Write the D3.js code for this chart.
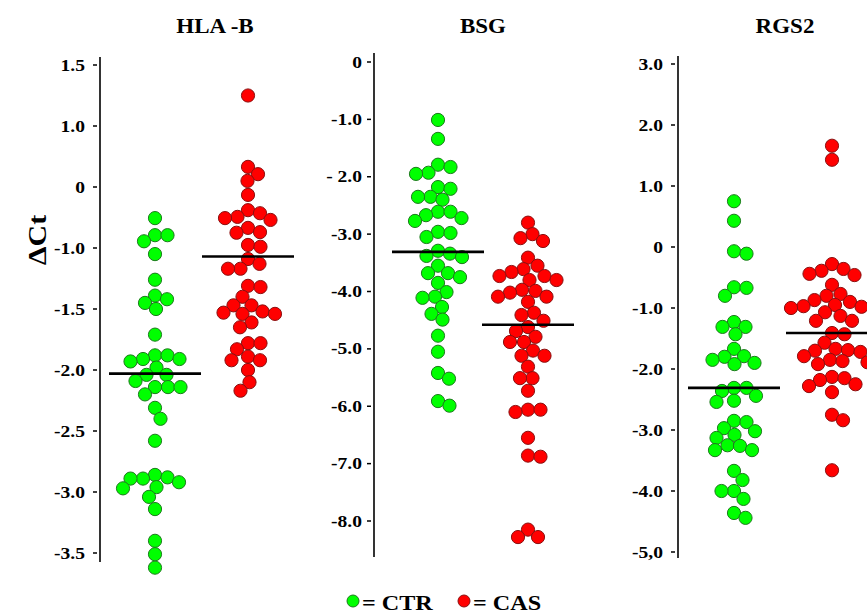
<!DOCTYPE html>
<html>
<head>
<meta charset="utf-8">
<script src="https://cdn.jsdelivr.net/npm/d3@7/dist/d3.min.js"></script>
<style>
  html, body { margin: 0; padding: 0; background: #fff; }
</style>
</head>
<body>
<div id="chart"></div>
<script>
// HLA-B 数据
const hlaTicks = ['1.5', '1.0', '0', '-1.0', '-1.5', '-2.0', '-2.5', '-3.0', '-3.5']
const hlaTickValues = [1.5, 1.0, 0, -1.0, -1.5, -2.0, -2.5, -3.0, -3.5]
const hlaCtr = [-0.51, -0.79, -0.89, -0.79, -1.05, -1.26, -1.39, -1.42, -1.45, -1.50,
  -1.71, -1.88, -1.93, -1.91, -1.88, -1.91, -1.98, -2.04, -2.04, -2.09, -2.14, -2.14,
  -2.14, -2.20, -2.31, -2.40, -2.58, -2.86, -2.92, -2.88, -2.89, -2.89, -2.97, -2.96,
  -3.04, -3.14, -3.40, -3.51, -3.62]
const hlaCas = [1.25, 0.33, 0.21, 0.10, -0.13, -0.38, -0.43, -0.49, -0.54, -0.51,
  -0.67, -0.75, -0.74, -0.98, -0.95, -1.09, -1.13, -1.17, -1.17, -1.32, -1.31, -1.40,
  -1.47, -1.47, -1.54, -1.52, -1.54, -1.53, -1.65, -1.61, -1.78, -1.78, -1.83, -1.89,
  -1.92, -1.92, -2.00, -2.10, -2.17]
const hlaMeans = [-2.03, -1.07]

// BSG 数据
const bsgTicks = ['0', '-1.0', '- 2.0', '-3.0', '-4.0', '-5.0', '-6.0', '-7.0', '-8.0']
const bsgTickValues = [0, -1, -2, -3, -4, -5, -6, -7, -8]
const bsgCtr = [-1.01, -1.34, -1.83, -1.79, -1.93, -1.95, -2.21, -2.18, -2.35, -2.35,
  -2.40, -2.61, -2.61, -2.72, -2.67, -2.77, -2.96, -2.98, -3.05, -3.29, -3.38, -3.40,
  -3.34, -3.55, -3.68, -3.68, -3.75, -3.85, -4.01, -4.11, -4.09, -4.27, -4.39, -4.49,
  -4.77, -5.05, -5.42, -5.52, -5.91, -5.99]
const bsgCas = [-2.80, -3.00, -3.12, -3.07, -3.41, -3.55, -3.66, -3.73, -3.80, -3.80,
  -3.73, -3.61, -4.02, -3.99, -3.97, -4.09, -4.09, -4.18, -4.41, -4.37, -4.51, -4.62,
  -4.69, -4.79, -4.88, -4.88, -5.03, -5.12, -5.12, -5.31, -5.51, -5.51, -5.73, -6.06,
  -6.10, -6.06, -6.55, -6.88, -6.86, -8.15, -8.28, -8.28]
const bsgMeans = [-3.31, -4.58]

// RGS2 数据
const rgsTicks = ['3.0', '2.0', '1.0', '0', '-1.0', '-2.0', '-3.0', '-4.0', '-5,0']
const rgsTickValues = [3, 2, 1, 0, -1, -2, -3, -4, -5]
const rgsCtr = [0.75, 0.43, -0.11, -0.07, -0.67, -0.66, -0.80, -1.23, -1.31, -1.31,
  -1.43, -1.67, -1.80, -1.79, -1.90, -1.92, -1.85, -2.31, -2.31, -2.36, -2.44, -2.54,
  -2.52, -2.87, -2.85, -2.97, -3.02, -3.08, -3.13, -3.25, -3.26, -3.33, -3.33, -3.67,
  -3.82, -4.00, -4.00, -4.13, -4.36, -4.44]
const rgsCas = [1.66, 1.43, -0.28, -0.36, -0.44, -0.39, -0.46, -0.62, -0.77, -0.80,
  -0.90, -0.87, -0.97, -0.98, -0.95, -1.00, -1.13, -1.07, -1.21, -1.21, -1.41, -1.43,
  -1.57, -1.69, -1.70, -1.72, -1.67, -1.79, -1.85, -1.92, -1.87, -1.89, -2.15, -2.13,
  -2.18, -2.28, -2.25, -2.38, -2.75, -2.84, -3.66]
const rgsMeans = [-2.31, -1.41]

const groupNames = ['CTR', 'CAS']

// 各面板布局
const panels = [
  { title: 'HLA  -B', ticks: hlaTicks, tickValues: hlaTickValues, series: [hlaCtr, hlaCas], means: hlaMeans,
    axisX: 100, top: 65, bottom: 553, lineTop: 57, lineBottom: 562, centers: [155, 248], titleX: 215, labelGap: 15 },
  { title: 'BSG', ticks: bsgTicks, tickValues: bsgTickValues, series: [bsgCtr, bsgCas], means: bsgMeans,
    axisX: 374, top: 62, bottom: 521, lineTop: 53, lineBottom: 557, centers: [438, 528], titleX: 483, labelGap: 12 },
  { title: 'RGS2', ticks: rgsTicks, tickValues: rgsTickValues, series: [rgsCtr, rgsCas], means: rgsMeans,
    axisX: 678, top: 64, bottom: 552, lineTop: 56, lineBottom: 558, centers: [734, 832], titleX: 785, labelGap: 15 }
]

const width = 867
const height = 615
const radius = 6.6
const stretch = 1.15
const fontFamily = '"Liberation Serif", "Times New Roman", "DejaVu Serif", serif'
const colors = {
  CTR: { fill: '#00ff00', stroke: '#1d7a1d' },
  CAS: { fill: '#ff0000', stroke: '#8a1010' }
}

const svg = d3.select('#chart')
  .append('svg')
  .attr('width', width)
  .attr('height', height)

// 文字（原图字体横向拉伸）
function addText(g, x, y, str, size, anchor) {
  return g.append('text')
    .attr('transform', `translate(${x},${y}) scale(${stretch},1)`)
    .attr('text-anchor', anchor || 'middle')
    .attr('font-family', fontFamily)
    .attr('font-weight', 'bold')
    .attr('font-size', size)
    .attr('fill', '#000')
    .text(str)
}

// 蜂群布局：按y排序，尽量靠近中心放置
function swarm(values, y, cx) {
  const placed = []
  const minDist = radius * 2 * 0.93
  const sorted = values.map(v => ({ v, y: y(v) })).sort((a, b) => a.y - b.y)
  sorted.forEach(d => {
    let x = cx
    for (let s = 0; s < 80; s += 0.5) {
      const tries = s === 0 ? [0] : [s, -s]
      const hit = tries.find(o => placed.every(p => Math.hypot(p.x - (cx + o), p.y - d.y) >= minDist))
      if (hit !== undefined) { x = cx + hit; break }
    }
    d.x = x
    placed.push(d)
  })
  return sorted
}

panels.forEach(p => {
  const g = svg.append('g')
  // 分段线性比例尺（刻度等距）
  const step = (p.bottom - p.top) / (p.tickValues.length - 1)
  const y = d3.scaleLinear()
    .domain(p.tickValues)
    .range(p.tickValues.map((d, i) => p.top + i * step))

  // 标题
  addText(g, p.titleX, 33, p.title, 20)

  // 轴线
  g.append('line')
    .attr('x1', p.axisX).attr('x2', p.axisX)
    .attr('y1', p.lineTop).attr('y2', p.lineBottom)
    .attr('stroke', '#000').attr('stroke-width', 1.6)

  // 刻度
  const ticks = g.selectAll('.tick')
    .data(p.tickValues)
    .enter()
    .append('g')
    .attr('class', 'tick')
  ticks.append('line')
    .attr('x1', p.axisX - 7).attr('x2', p.axisX - 3)
    .attr('y1', d => y(d)).attr('y2', d => y(d))
    .attr('stroke', '#000').attr('stroke-width', 1.5)
  ticks.each(function (d, i) {
    addText(d3.select(this), p.axisX - p.labelGap, y(d) + 5.5, p.ticks[i], 17, 'end')
  })

  // 散点
  p.series.forEach((vals, k) => {
    const c = colors[groupNames[k]]
    const pts = swarm(vals, y, p.centers[k])
    g.append('g')
      .selectAll('circle')
      .data(pts)
      .enter()
      .append('circle')
      .attr('cx', d => d.x)
      .attr('cy', d => d.y)
      .attr('r', radius)
      .attr('fill', c.fill)
      .attr('stroke', c.stroke)
      .attr('stroke-width', 1)
  })

  // 均值线
  g.selectAll('.mean')
    .data(p.means)
    .enter()
    .append('line')
    .attr('class', 'mean')
    .attr('x1', (d, k) => p.centers[k] - 46)
    .attr('x2', (d, k) => p.centers[k] + 46)
    .attr('y1', d => y(d))
    .attr('y2', d => y(d))
    .attr('stroke', '#000')
    .attr('stroke-width', 2.6)
})

// y轴标题
svg.append('text')
  .attr('transform', `translate(46,240) rotate(-90) scale(${stretch},1)`)
  .attr('text-anchor', 'middle')
  .attr('font-family', fontFamily)
  .attr('font-weight', 'bold')
  .attr('font-size', 26)
  .text('ΔCt')

// 图例
const legend = svg.append('g')
const legendX = [353, 464]
groupNames.forEach((name, i) => {
  legend.append('circle')
    .attr('cx', legendX[i]).attr('cy', 601).attr('r', 6)
    .attr('fill', colors[name].fill)
    .attr('stroke', colors[name].stroke)
  addText(legend, legendX[i] + 9, 610, `= ${name}`, 21, 'start')
})
</script>
</body>
</html>
